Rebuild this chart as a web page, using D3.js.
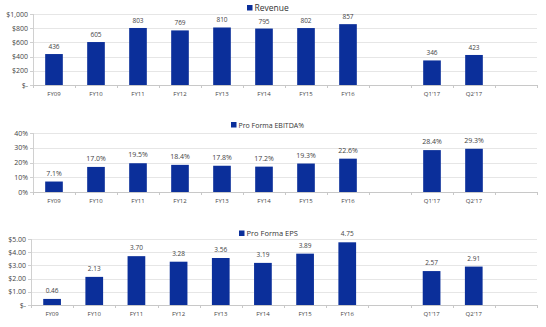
<!DOCTYPE html>
<html><head><meta charset="utf-8">
<script src="https://cdn.jsdelivr.net/npm/d3@7"></script>
<style>
body{margin:0;background:#fff;}
text{font-family:"Open Sans",sans-serif;}
</style></head>
<body><svg id="c" width="546" height="327"></svg>
<script>
const categories = ["FY09","FY10","FY11","FY12","FY13","FY14","FY15","FY16","","Q1'17","Q2'17"," "];
const revenue = [436,605,803,769,810,795,802,857,null,346,423,null];
const revenueLabels = ["436","605","803","769","810","795","802","857","","346","423",""];
const ebitda = [7.1,17.0,19.5,18.4,17.8,17.2,19.3,22.6,null,28.4,29.3,null];
const ebitdaLabels = ["7.1%","17.0%","19.5%","18.4%","17.8%","17.2%","19.3%","22.6%","","28.4%","29.3%",""];
const eps = [0.46,2.13,3.70,3.28,3.56,3.19,3.89,4.75,null,2.57,2.91,null];
const epsLabels = ["0.46","2.13","3.70","3.28","3.56","3.19","3.89","4.75","","2.57","2.91",""];
const revTicks = [0,200,400,600,800,1000];
const revTickLabels = ["$-","$200","$400","$600","$800","$1,000"];
const ebitdaTicks = [0,10,20,30,40];
const ebitdaTickLabels = ["0%","10%","20%","30%","40%"];
const epsTicks = [0,1,2,3,4,5];
const epsTickLabels = ["$-","$1.00","$2.00","$3.00","$4.00","$5.00"];

const svg = d3.select("#c");
const BAR = "#0b2f9a";
const TXT = "#444";

function panel(cfg){
  const g = svg.append("g");
  const x = d3.scaleBand().domain(categories).range([cfg.left, cfg.right]).paddingInner(0.58).paddingOuter(0.29);
  const xs = d3.scaleBand().domain(categories).range([cfg.left, cfg.right]);
  const y = d3.scaleLinear().domain([0, cfg.max]).range([cfg.y0, cfg.ytop]);
  // grid
  g.selectAll(".grid").data(cfg.ticks.slice(1)).enter().append("line")
    .attr("x1", cfg.left).attr("x2", cfg.right)
    .attr("y1", d=>Math.round(y(d))+0.5).attr("y2", d=>Math.round(y(d))+0.5)
    .attr("stroke","#e6e6e6").attr("stroke-width",1);
  // y axis line
  g.append("line").attr("x1",cfg.left+0.5).attr("x2",cfg.left+0.5)
    .attr("y1",cfg.ytop).attr("y2",cfg.y0).attr("stroke","#d0d0d0");
  // y ticks
  g.selectAll(".yt").data(cfg.ticks).enter().append("line")
    .attr("x1",cfg.left-3).attr("x2",cfg.left)
    .attr("y1",d=>Math.round(y(d))+0.5).attr("y2",d=>Math.round(y(d))+0.5).attr("stroke","#d0d0d0");
  g.selectAll(".yl").data(cfg.ticks).enter().append("text")
    .attr("x",cfg.left-5).attr("y",d=>y(d)+2.5).attr("text-anchor","end")
    .attr("font-size",7).attr("fill",TXT).text((d,i)=>cfg.tickLabels[i]);
  // bars
  const data = categories.map((c,i)=>({c, v:cfg.values[i], l:cfg.labels[i]})).filter(d=>d.v!=null);
  g.selectAll(".bar").data(data).enter().append("rect")
    .attr("x",d=>x(d.c)).attr("width",x.bandwidth())
    .attr("y",d=>y(d.v)).attr("height",d=>cfg.y0-y(d.v)).attr("fill",BAR);
  g.selectAll(".vl").data(data).enter().append("text")
    .attr("x",d=>x(d.c)+x.bandwidth()/2).attr("y",d=>y(d.v)-cfg.labelOff)
    .attr("text-anchor","middle").attr("font-size",cfg.labelSize).attr("fill",TXT).text(d=>d.l);
  // x axis
  g.append("line").attr("x1",cfg.left).attr("x2",cfg.right)
    .attr("y1",cfg.y0+0.5).attr("y2",cfg.y0+0.5).attr("stroke","#c8c8c8");
  const bounds = categories.map(c=>xs(c)).concat([cfg.right]);
  g.selectAll(".xt").data(bounds).enter().append("line")
    .attr("x1",d=>Math.round(d)+0.5).attr("x2",d=>Math.round(d)+0.5)
    .attr("y1",cfg.y0).attr("y2",cfg.y0+3).attr("stroke","#c8c8c8");
  g.selectAll(".xl").data(categories).enter().append("text")
    .attr("x",d=>x(d)+x.bandwidth()/2).attr("y",cfg.y0+11)
    .attr("text-anchor","middle").attr("font-size",6).attr("fill",TXT).text(d=>d.trim());
  // legend
  g.append("rect").attr("x",cfg.legX).attr("y",cfg.legY-5.5).attr("width",5.5).attr("height",5.5).attr("fill",BAR);
  g.append("text").attr("x",cfg.legX+7.5).attr("y",cfg.legY).attr("font-size",cfg.legSize).attr("fill","#333").text(cfg.legend);
}

panel({left:33,right:537,y0:85,ytop:14,max:1000,ticks:revTicks,tickLabels:revTickLabels,
  values:revenue,labels:revenueLabels,legend:"Revenue",legX:247,legY:10.5,legSize:8.5,labelOff:5,labelSize:6.5});
panel({left:33,right:537,y0:192,ytop:133,max:40,ticks:ebitdaTicks,tickLabels:ebitdaTickLabels,
  values:ebitda,labels:ebitdaLabels,legend:"Pro Forma EBITDA%",legX:231,legY:127.5,legSize:7,labelOff:6,labelSize:7});
panel({left:31,right:537,y0:305,ytop:239,max:5,ticks:epsTicks,tickLabels:epsTickLabels,
  values:eps,labels:epsLabels,legend:"Pro Forma EPS",legX:239,legY:236,legSize:7.5,labelOff:6,labelSize:6.5});
</script></body></html>
